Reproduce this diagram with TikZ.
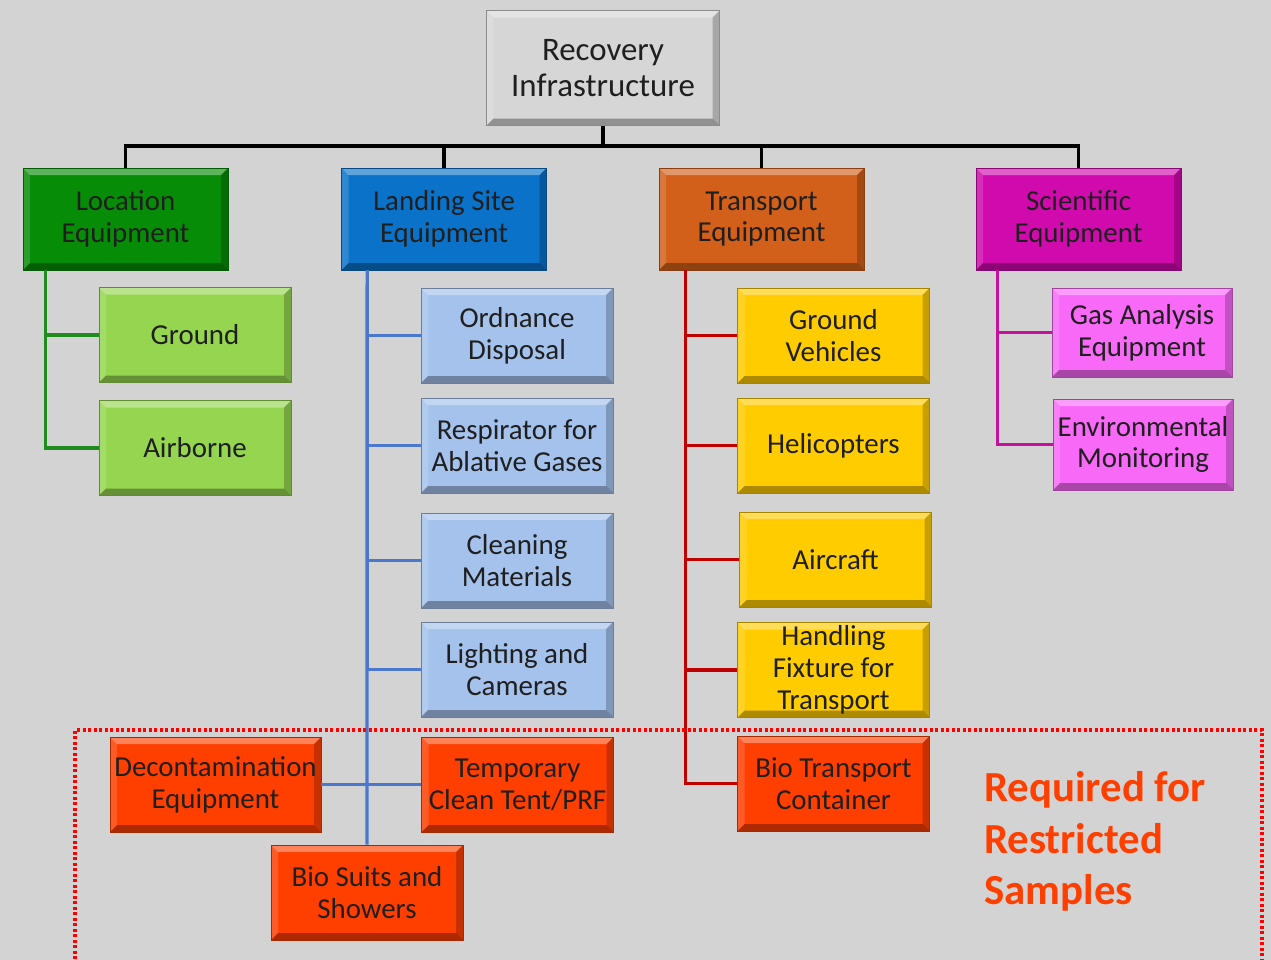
\documentclass[tikz,border=0pt]{standalone}
\usepackage{fontspec}
\setmainfont{Carlito}
\definecolor{cBg}{HTML}{D3D3D3}
\definecolor{cRoot}{HTML}{D6D6D6}
\definecolor{cGreen}{HTML}{078C07}
\definecolor{cLGreen}{HTML}{95D54F}
\definecolor{cBlue}{HTML}{0A72C8}
\definecolor{cLBlue}{HTML}{A4C2EC}
\definecolor{cOrange}{HTML}{D2601A}
\definecolor{cYellow}{HTML}{FFCC00}
\definecolor{cMag}{HTML}{D10AAE}
\definecolor{cPink}{HTML}{F869F8}
\definecolor{cRed}{HTML}{FF3F00}
\definecolor{lGreen}{HTML}{1E8C1E}
\definecolor{lBlue}{HTML}{4A78CC}
\definecolor{lRed}{HTML}{C00000}
\definecolor{lMag}{HTML}{C8109E}
\tikzset{
  bev/.style={draw=#1!65!black, line width=0.8bp, fill=#1,
    minimum width=192bp, minimum height=95bp, inner sep=0pt, align=center,
    font=\fontsize{29}{32}\selectfont, text=black!88,
    path picture={
      \fill[white,opacity=.35] (path picture bounding box.north west) -- (path picture bounding box.north east)
        -- ([shift={(-7bp,-7bp)}]path picture bounding box.north east) -- ([shift={(7bp,-7bp)}]path picture bounding box.north west) -- cycle;
      \fill[white,opacity=.15] (path picture bounding box.north west) -- (path picture bounding box.south west)
        -- ([shift={(7bp,7bp)}]path picture bounding box.south west) -- ([shift={(7bp,-7bp)}]path picture bounding box.north west) -- cycle;
      \fill[black,opacity=.32] (path picture bounding box.south west) -- (path picture bounding box.south east)
        -- ([shift={(-7bp,7bp)}]path picture bounding box.south east) -- ([shift={(7bp,7bp)}]path picture bounding box.south west) -- cycle;
      \fill[black,opacity=.22] (path picture bounding box.north east) -- (path picture bounding box.south east)
        -- ([shift={(-7bp,7bp)}]path picture bounding box.south east) -- ([shift={(-7bp,-7bp)}]path picture bounding box.north east) -- cycle;
    }},
  cat/.style={bev=#1, minimum width=205bp, minimum height=102bp},
  conn/.style={line width=3.2bp, draw=#1},
}
\begin{document}
\begin{tikzpicture}[x=1bp,y=-1bp]
\fill[cBg] (0,0) rectangle (1271,960);
\useasboundingbox (0,0) rectangle (1271,960);
% root
\node[bev=cRoot, minimum width=233bp, minimum height=115bp, font=\fontsize{33}{36}\selectfont] (root) at (603,68) {Recovery\\Infrastructure};
% categories
\node[cat=cGreen] (loc) at (125.5,219) {Location\\Equipment};
\node[cat=cBlue] (land) at (444,219) {Landing Site\\Equipment};
\node[cat=cOrange] (trans) at (761.5,219) {Transport\\Equipment};
\node[cat=cMag] (sci) at (1078.5,219) {Scientific\\Equipment};
% green children
\node[bev=cLGreen] (ground) at (195,335) {Ground};
\node[bev=cLGreen] (air) at (195,448) {Airborne};
% blue children
\node[bev=cLBlue] (ord) at (517,335.5) {Ordnance\\Disposal};
\node[bev=cLBlue] (resp) at (517,445.5) {Respirator for\\Ablative Gases};
\node[bev=cLBlue] (clean) at (517,560.5) {Cleaning\\Materials};
\node[bev=cLBlue] (light) at (517,669.5) {Lighting and\\Cameras};
\node[bev=cRed] (tent) at (517.5,784.5) {Temporary\\Clean Tent/PRF};
\node[bev=cRed, minimum width=211bp] (decon) at (215.5,784.5) {Decontamination\\Equipment};
\node[bev=cRed] (bio) at (367,892.5) {Bio Suits and\\Showers};
% transport children
\node[bev=cYellow] (gveh) at (833.5,335.5) {Ground\\Vehicles};
\node[bev=cYellow] (heli) at (833.5,445.5) {Helicopters};
\node[bev=cYellow] (aircr) at (835.5,559.5) {Aircraft};
\node[bev=cYellow] (handl) at (833.5,670) {Handling\\Fixture for\\Transport};
\node[bev=cRed] (btc) at (833.5,783.5) {Bio Transport\\Container};
% scientific children
\node[bev=cPink, minimum width=180bp, minimum height=89bp] (gas) at (1142,332.5) {Gas Analysis\\Equipment};
\node[bev=cPink, minimum width=180bp, minimum height=91bp] (env) at (1143,444.5) {Environmental\\Monitoring};
% connectors
\coordinate (bus) at (603,146);
\draw[conn=black] (root.south) -- (bus);
\draw[conn=black] (loc.north) |- (bus);
\draw[conn=black] (land.north) |- (bus);
\draw[conn=black] (trans.north) |- (bus);
\draw[conn=black] (sci.north) |- (bus);
\draw[conn=lGreen] ([xshift=23bp]loc.south west) |- (ground.west);
\draw[conn=lGreen] ([xshift=23bp]loc.south west) |- (air.west);
\draw[conn=lBlue] ([xshift=26bp]land.south west) |- (ord.west);
\draw[conn=lBlue] ([xshift=26bp]land.south west) |- (resp.west);
\draw[conn=lBlue] ([xshift=26bp]land.south west) |- (clean.west);
\draw[conn=lBlue] ([xshift=26bp]land.south west) |- (light.west);
\draw[conn=lBlue] ([xshift=26bp]land.south west) -- (bio.north);
\draw[conn=lBlue] (decon.east) -- (tent.west);
\draw[conn=lRed] ([xshift=27bp]trans.south west) |- (gveh.west);
\draw[conn=lRed] ([xshift=27bp]trans.south west) |- (heli.west);
\draw[conn=lRed] ([xshift=27bp]trans.south west) |- (aircr.west);
\draw[conn=lRed] ([xshift=27bp]trans.south west) |- (handl.west);
\draw[conn=lRed] ([xshift=27bp]trans.south west) |- (btc.west);
\draw[conn=lMag] ([xshift=22bp]sci.south west) |- (gas.west);
\draw[conn=lMag] ([xshift=22bp]sci.south west) |- (env.west);
% restricted region
\coordinate (rbl) at (75,970);
\coordinate (rtl) at (75,730);
\coordinate (rtr) at (1262,730);
\coordinate (rbr) at (1262,970);
\draw[red, line width=3.5bp, dash pattern=on 3bp off 2.5bp] (rbl) -- (rtl) -- (rtr) -- (rbr);
\node[anchor=north west, inner sep=0pt, align=left, text=cRed, font=\bfseries\fontsize{43}{52}\selectfont] (req) at (984,771) {Required for\\Restricted\\Samples};
\end{tikzpicture}
\end{document}
